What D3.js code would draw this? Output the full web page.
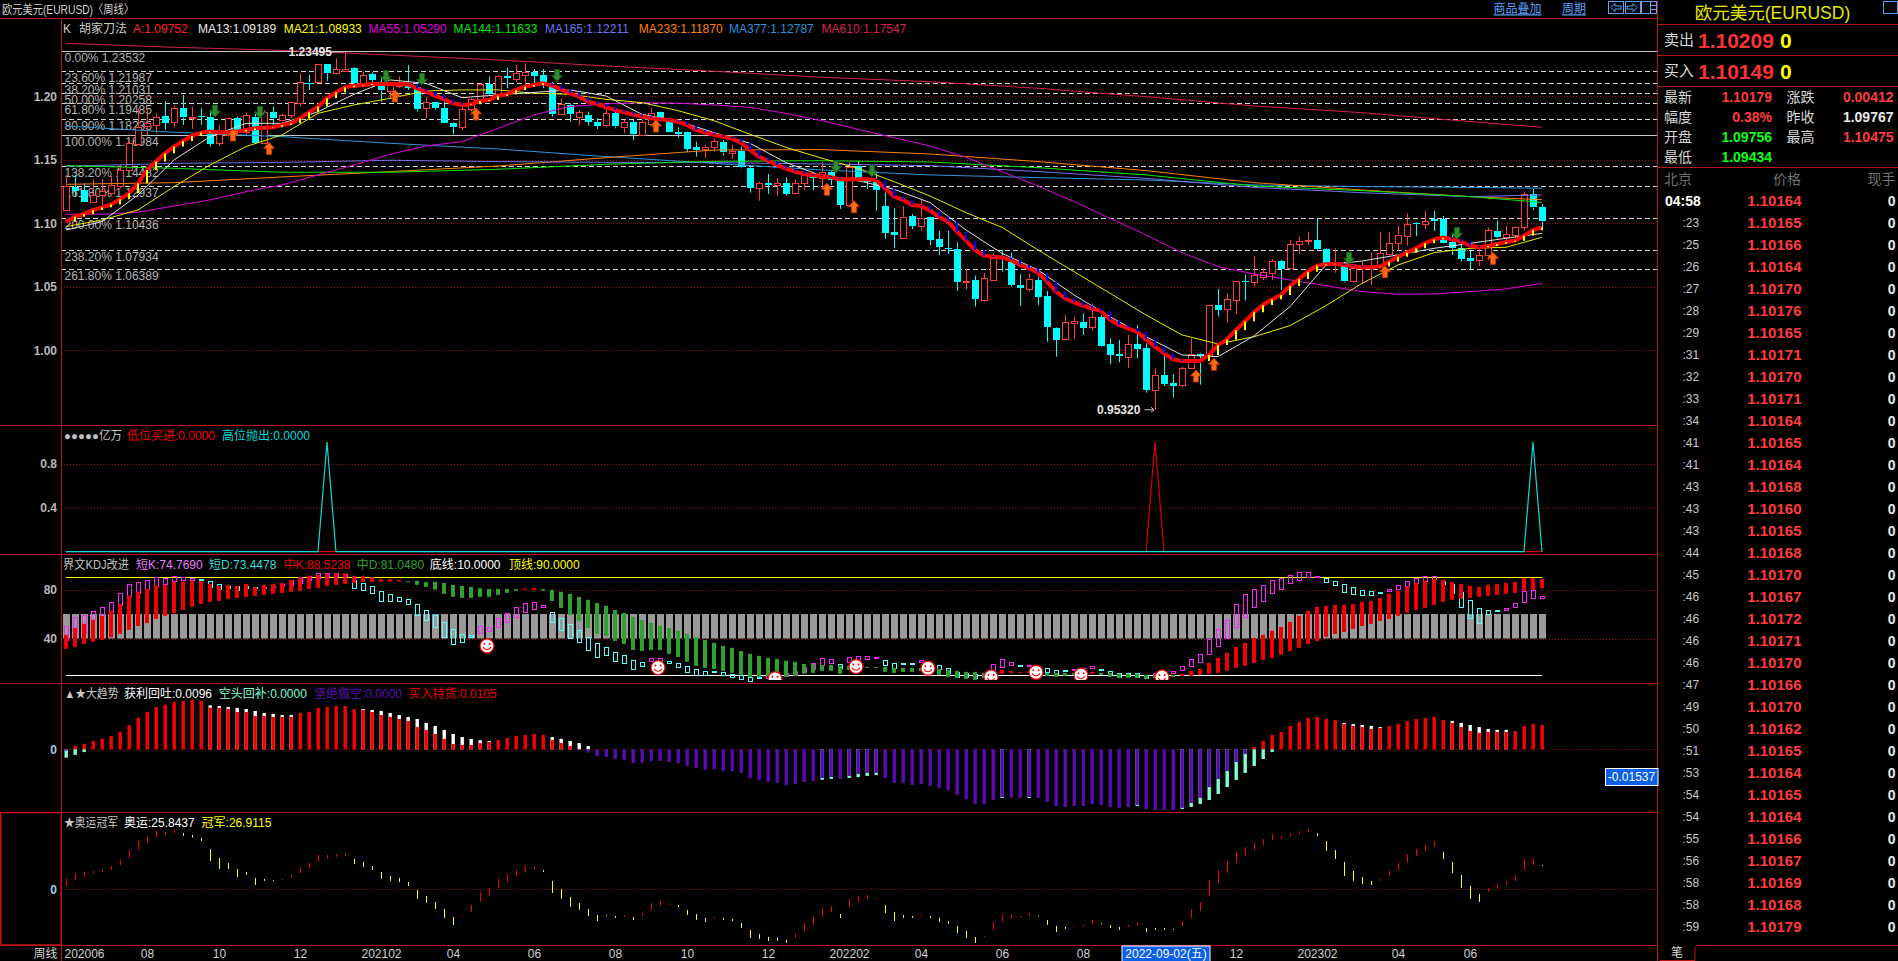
<!DOCTYPE html>
<html>
<head>
<meta charset="utf-8">
<title>EURUSD</title>
<script src="https://cdn.jsdelivr.net/npm/d3@7/dist/d3.min.js"></script>
<style>
  html, body { margin: 0; padding: 0; background: #000; overflow: hidden; }
  svg { display: block; }
  text { font-family: "Liberation Sans", "Noto Sans CJK SC", sans-serif; font-size: 12px; }
</style>
</head>
<body>
<div id="plot"></div>
<script>
// candles, weekly bars 202006 to 202308
const opens = [1.1105,1.1283,1.1262,1.1171,1.1223,1.1241,1.1297,1.1420,1.1630,1.1766,1.1780,1.1845,1.1793,1.1906,1.1832,1.1843,1.1840,1.1630,1.1696,1.1827,1.1717,1.1840,1.1633,1.1874,1.1814,1.1853,1.1950,1.2108,1.2110,1.2252,1.2181,1.2205,1.2221,1.2102,1.2173,1.2102,1.2042,1.2081,1.2084,1.2071,1.1906,1.1953,1.1906,1.1787,1.1753,1.1900,1.1976,1.2095,1.2016,1.2160,1.2137,1.2173,1.2189,1.2168,1.2089,1.1858,
  1.1932,1.1832,1.1853,1.1800,1.1774,1.1866,1.1753,1.1795,1.1690,1.1787,1.1874,1.1814,1.1722,1.1717,1.1598,1.1583,1.1598,1.1638,1.1556,1.1570,1.1438,1.1273,1.1315,1.1302,1.1315,1.1236,1.1320,1.1362,1.1362,1.1407,1.1336,1.1144,1.1454,1.1336,1.1323,1.1136,1.0932,1.0887,1.1055,1.0982,1.1047,1.0877,1.0808,1.0798,1.0540,1.0553,1.0391,1.0548,1.0724,1.0698,1.0514,1.0480,1.0553,1.0428,1.0176,1.0086,
  1.0212,1.0220,1.0178,1.0260,1.0050,0.9971,0.9950,1.0050,1.0018,0.9687,0.9806,0.9743,0.9722,0.9863,0.9974,0.9958,1.0357,1.0320,1.0391,1.0546,1.0533,1.0580,1.0611,1.0703,1.0646,1.0835,1.0858,1.0866,1.0798,1.0680,1.0685,1.0541,1.0646,1.0646,1.0653,1.0753,1.0842,1.0900,1.1000,1.0992,1.1031,1.1034,1.0853,1.0803,1.0727,1.0706,1.0748,1.0940,1.0890,1.0908,1.0968,1.1228,1.1126];
const closes = [1.1294,1.1249,1.1168,1.1223,1.1255,1.1302,1.1420,1.1630,1.1761,1.1787,1.1840,1.1793,1.1906,1.1832,1.1840,1.1837,1.1630,1.1701,1.1827,1.1722,1.1853,1.1638,1.1874,1.1827,1.1853,1.1958,1.2115,1.2100,1.2252,1.2181,1.2213,1.2218,1.2102,1.2168,1.2129,1.2045,1.2095,1.2097,1.2071,1.1900,1.1953,1.1906,1.1787,1.1756,1.1898,1.1976,1.2095,1.2016,1.2160,1.2142,1.2181,1.2194,1.2160,1.2110,1.1861,1.1937,
  1.1861,1.1874,1.1800,1.1769,1.1866,1.1761,1.1795,1.1701,1.1795,1.1871,1.1814,1.1722,1.1709,1.1585,1.1575,1.1598,1.1648,1.1556,1.1570,1.1441,1.1281,1.1315,1.1302,1.1315,1.1231,1.1315,1.1380,1.1360,1.1407,1.1341,1.1144,1.1446,1.1362,1.1325,1.1262,1.0924,1.0908,1.1052,1.0979,1.1045,1.0869,1.0814,1.0798,1.0540,1.0543,1.0404,1.0567,1.0724,1.0716,1.0514,1.0491,1.0559,1.0422,1.0186,1.0081,1.0220,
  1.0228,1.0176,1.0260,1.0034,0.9966,0.9958,1.0050,1.0010,0.9687,0.9803,0.9735,0.9722,0.9858,0.9971,0.9958,1.0357,1.0320,1.0401,1.0543,1.0535,1.0590,1.0617,1.0703,1.0643,1.0835,1.0858,1.0866,1.0795,1.0690,1.0690,1.0541,1.0646,1.0653,1.0664,1.0764,1.0842,1.0905,1.0992,1.0992,1.1016,1.1016,1.0848,1.0803,1.0719,1.0706,1.0748,1.0945,1.0890,1.0913,1.0968,1.1228,1.1123,1.1013];
const highs = [1.1381,1.1381,1.1315,1.1349,1.1349,1.1373,1.1460,1.1656,1.1906,1.1906,1.1866,1.1963,1.1932,1.2011,1.1919,1.1906,1.1892,1.1774,1.1832,1.1840,1.1874,1.1879,1.1892,1.1919,1.1866,1.1963,1.2181,1.2168,1.2252,1.2252,1.2299,1.2349,1.2228,1.2194,1.2189,1.2142,1.2102,1.2155,1.2247,1.2102,1.1997,1.1958,1.1958,1.1793,1.1932,1.1984,1.2102,1.2155,1.2168,1.2226,1.2247,1.2260,1.2215,1.2215,1.2115,1.1984,
  1.1945,1.1892,1.1879,1.1827,1.1892,1.1892,1.1814,1.1814,1.1814,1.1906,1.1879,1.1827,1.1756,1.1722,1.1643,1.1617,1.1669,1.1656,1.1617,1.1604,1.1459,1.1328,1.1388,1.1354,1.1362,1.1341,1.1399,1.1401,1.1486,1.1420,1.1354,1.1478,1.1491,1.1362,1.1394,1.1244,1.1118,1.1136,1.1073,1.1189,1.1052,1.0940,1.0940,1.0850,1.0640,1.0588,1.0609,1.0764,1.0790,1.0771,1.0598,1.0606,1.0580,1.0467,1.0181,1.0278,
  1.0265,1.0291,1.0370,1.0278,1.0094,1.0081,1.0121,1.0199,1.0055,0.9858,0.9963,0.9813,0.9871,1.0094,0.9981,1.0357,1.0483,1.0449,1.0543,1.0598,1.0743,1.0646,1.0719,1.0711,1.0869,1.0895,1.0934,1.1034,1.0803,1.0803,1.0698,1.0664,1.0698,1.0769,1.0934,1.0934,1.0979,1.1079,1.1005,1.1097,1.1097,1.1058,1.0908,1.0829,1.0782,1.0803,1.0966,1.1021,1.0979,1.0974,1.1244,1.1270,1.1152];
const lows = [1.1105,1.1210,1.1168,1.1168,1.1144,1.1218,1.1276,1.1407,1.1617,1.1696,1.1709,1.1735,1.1753,1.1774,1.1743,1.1774,1.1604,1.1611,1.1682,1.1709,1.1696,1.1638,1.1630,1.1748,1.1801,1.1827,1.1919,1.2050,1.2108,1.2121,1.2173,1.2194,1.2076,1.2071,1.2076,1.1958,1.1984,1.2063,1.2050,1.1879,1.1827,1.1892,1.1787,1.1701,1.1735,1.1879,1.1958,1.2011,1.1971,1.2063,1.2110,1.2089,1.2089,1.2063,1.1840,1.1853,
  1.1800,1.1774,1.1769,1.1743,1.1756,1.1748,1.1709,1.1656,1.1690,1.1774,1.1800,1.1717,1.1675,1.1559,1.1525,1.1512,1.1564,1.1533,1.1506,1.1433,1.1241,1.1178,1.1231,1.1215,1.1218,1.1231,1.1262,1.1262,1.1275,1.1302,1.1113,1.1139,1.1328,1.1270,1.1097,1.0877,1.0803,1.0887,1.0955,1.0942,1.0829,1.0750,1.0758,1.0467,1.0480,1.0344,1.0383,1.0548,1.0619,1.0501,1.0349,1.0462,1.0357,1.0068,0.9950,1.0076,
  1.0086,1.0121,1.0155,1.0029,0.9892,0.9905,0.9861,0.9937,0.9666,0.9530,0.9719,0.9627,0.9706,0.9858,0.9730,0.9955,1.0265,1.0218,1.0286,1.0391,1.0501,1.0554,1.0554,1.0475,1.0646,1.0758,1.0829,1.0785,1.0685,1.0611,1.0535,1.0535,1.0527,1.0514,1.0646,1.0748,1.0785,1.0824,1.0900,1.0955,1.0939,1.0842,1.0751,1.0701,1.0638,1.0664,1.0711,1.0882,1.0869,1.0882,1.0942,1.1105,1.0942];

// the heavy red line "A", one value a bar
const maA = [1.1013,1.1052,1.1073,1.1105,1.1126,1.1149,1.1189,1.1236,1.1315,1.1420,1.1486,1.1551,1.1604,1.1648,1.1688,1.1714,1.1722,1.1716,1.1716,1.1722,1.1735,1.1748,1.1753,1.1756,1.1774,1.1787,1.1827,1.1874,1.1919,1.1984,1.2031,1.2071,1.2084,1.2089,1.2097,1.2097,1.2097,1.2097,1.2095,1.2063,1.2037,1.2005,1.1976,1.1945,1.1932,1.1937,1.1963,1.1971,1.2005,1.2016,1.2050,1.2076,1.2089,1.2102,1.2084,1.2055,
  1.2024,1.1997,1.1958,1.1940,1.1913,1.1892,1.1874,1.1856,1.1840,1.1827,1.1819,1.1814,1.1800,1.1774,1.1735,1.1714,1.1696,1.1682,1.1667,1.1635,1.1577,1.1525,1.1491,1.1459,1.1430,1.1407,1.1388,1.1378,1.1373,1.1362,1.1346,1.1346,1.1346,1.1346,1.1341,1.1275,1.1210,1.1184,1.1144,1.1136,1.1100,1.1052,1.1013,1.0934,1.0863,1.0790,1.0745,1.0737,1.0730,1.0711,1.0672,1.0646,1.0611,1.0541,1.0462,1.0409,
  1.0378,1.0352,1.0328,1.0310,1.0239,1.0199,1.0173,1.0147,1.0086,1.0029,0.9976,0.9929,0.9916,0.9916,0.9916,0.9963,1.0042,1.0086,1.0160,1.0228,1.0299,1.0357,1.0401,1.0436,1.0506,1.0562,1.0619,1.0667,1.0677,1.0682,1.0672,1.0664,1.0653,1.0653,1.0659,1.0698,1.0737,1.0769,1.0803,1.0842,1.0874,1.0887,1.0874,1.0856,1.0824,1.0811,1.0821,1.0837,1.0853,1.0863,1.0903,1.0947,1.0968];

// short MAs, read every 4th bar
const shortIdx = d3.range(0, 165, 4);
const ma13 = [1.0947,1.1013,1.1223,1.1499,1.1682,1.1787,1.1787,1.1879,1.2016,1.2129,1.2102,1.1989,1.2011,1.2031,
  1.2050,1.2003,1.1858,1.1806,1.1714,1.1630,1.1478,1.1373,1.1336,1.1268,1.1163,1.0947,1.0764,1.0632,
  1.0436,1.0265,1.0107,0.9963,0.9950,1.0113,1.0344,1.0672,1.0703,1.0751,1.0803,1.0842,1.0882,1.0921];
const ma21 = [1.0974,1.1026,1.1105,1.1289,1.1459,1.1604,1.1696,1.1866,1.1932,1.1984,1.2042,1.2050,1.2050,1.2024,
  1.2016,1.1976,1.1950,1.1887,1.1808,1.1701,1.1598,1.1512,1.1433,1.1328,1.1215,1.1084,1.0968,1.0790,
  1.0619,1.0449,1.0278,1.0121,1.0050,1.0107,1.0194,1.0352,1.0527,1.0672,1.0769,1.0803,1.0811,1.0890];
const ma55 = [1.1071,1.1071,1.1087,1.1136,1.1184,1.1249,1.1302,1.1381,1.1459,1.1543,1.1609,1.1643,1.1748,1.1853,1.1919,1.1940,
  1.1950,1.1945,1.1932,1.1913,1.1866,1.1808,1.1740,1.1674,1.1609,1.1520,1.1407,1.1294,
  1.1171,1.1039,1.0908,1.0769,1.0659,1.0601,1.0554,1.0509,1.0462,1.0441,1.0444,1.0462,1.0483,1.0527];

// long MAs, read at wider steps
const longIdx = [0,12,24,36,48,60,72,84,96,108,120,132,144,156,164];
const ma144 = [1.1454,1.1433,1.1402,1.1402,1.1425,1.1465,1.1488,1.1493,1.1483,1.1438,1.1381,1.1294,1.1257,1.1210,1.1165];
const ma165 = [1.1449,1.1472,1.1480,1.1496,1.1486,1.1480,1.1478,1.1467,1.1454,1.1407,1.1354,1.1283,1.1241,1.1210,1.1223];
const ma233 = [1.1307,1.1320,1.1365,1.1407,1.1451,1.1517,1.1577,1.1580,1.1546,1.1486,1.1415,1.1320,1.1262,1.1210,1.1186];
const ma377 = [1.1766,1.1717,1.1682,1.1630,1.1585,1.1525,1.1472,1.1420,1.1381,1.1360,1.1341,1.1302,1.1289,1.1283,1.1276];
const ma610 = [1.2417,1.2386,1.2362,1.2325,1.2286,1.2239,1.2197,1.2150,1.2115,1.2063,1.1997,1.1924,1.1871,1.1801,1.1756];

// buy / sell arrows on the price pane
const sellArrowIdx = [16,21,35,39,54,85,89,142,154];
const sellArrowPrice = [1.1884,1.1874,1.2155,1.2134,1.2163,1.1446,1.1412,1.0724,1.0921];
const buyArrowIdx = [18,22,36,45,65,84,87,125,127,146,158];
const buyArrowPrice = [1.1696,1.1590,1.2003,1.1861,1.1766,1.1268,1.1131,0.9798,0.9890,1.0619,1.0724];

// fibonacci levels
const fibPct = ["0.00%","23.60%","38.20%","50.00%","61.80%","80.90%","100.00%","138.20%","161.80%","200.00%","238.20%","261.80%"];
const fibPrice = [1.23532,1.21987,1.21031,1.20258,1.19485,1.18235,1.16984,1.14482,1.12937,1.10436,1.07934,1.06389];

// 亿万 pane
const sellSignalIdx = [29,163];
const buySignalIdx = [121];

// 界文KDJ pane
const shortK = [50.3,57.7,59.3,62.3,65.9,69.9,77.3,84.6,86.3,87.9,90.3,89.5,91.2,90.1,89.5,87.9,82.4,80.3,81.1,79.7,81.1,81.6,82.4,83.0,84.6,87.9,90.1,91.4,93.3,93.3,93.3,92.8,81.1,79.2,77.0,71.0,70.5,70.5,68.0,59.3,55.0,49.8,41.6,35.4,37.0,41.4,50.3,49.5,56.9,60.7,65.9,68.8,69.7,67.2,53.3,47.1,40.8,37.6,31.0,24.8,26.1,21.2,19.6,15.0,
  17.1,23.9,23.9,19.6,16.3,12.2,9.8,9.8,12.2,9.8,9.0,6.5,5.7,8.2,10.4,10.4,11.7,13.3,17.1,19.9,23.9,23.1,16.1,24.8,26.1,26.1,24.8,18.0,15.8,19.6,19.6,22.3,19.9,14.7,11.7,9.0,8.4,7.6,9.0,19.0,23.1,20.7,18.0,18.5,17.1,12.2,10.4,13.1,15.0,15.8,17.4,14.0,10.4,8.4,9.5,8.4,7.6,11.7,13.1,13.3,17.4,23.1,
  27.2,39.5,47.6,55.2,68.3,76.5,80.3,83.5,87.6,89.5,91.7,94.1,94.1,90.9,85.7,83.3,77.6,75.9,75.1,75.4,76.7,80.3,83.5,86.8,89.2,90.9,90.9,84.1,77.0,66.1,56.3,52.2,59.6,62.1,64.8,68.8,78.7,79.5,74.8];
const shortD = [38.9,44.4,44.4,55.2,58.5,62.0,67.5,74.8,77.0,80.3,83.3,84.6,87.1,87.9,87.9,88.8,87.1,84.6,83.0,83.0,83.0,82.4,81.9,81.9,83.0,83.3,85.2,87.9,89.2,90.6,91.2,91.2,87.9,85.2,83.0,78.9,76.5,74.0,72.1,68.3,63.1,59.3,53.6,47.6,43.8,43.0,44.9,46.5,49.8,53.3,57.4,61.2,63.7,65.3,61.5,56.6,52.0,47.1,41.6,36.2,32.9,28.8,26.4,22.3,
  20.7,21.2,21.2,21.5,19.9,17.4,15.0,13.3,13.3,12.5,11.2,10.1,9.0,9.0,8.2,8.2,9.0,10.1,12.8,15.0,18.0,19.6,19.0,20.4,22.6,23.9,23.6,22.3,19.9,20.1,20.1,20.4,18.5,18.2,15.8,13.1,11.7,10.9,12.2,11.7,16.3,18.2,18.5,18.0,14.4,15.8,14.0,14.2,14.0,14.4,15.5,15.0,13.3,11.7,11.7,11.7,10.1,10.4,10.4,11.4,14.0,17.1,
  20.4,26.9,33.5,40.8,49.8,58.0,65.3,70.7,76.7,80.8,84.9,87.3,89.8,90.3,89.2,86.8,84.4,81.9,79.5,78.6,77.8,78.4,80.0,82.4,84.9,86.5,88.4,86.8,84.6,78.1,71.3,64.8,63.1,63.1,63.1,65.3,69.4,72.7,73.4];
const midK = [43.0,48.7,52.0,55.2,58.5,62.6,68.3,74.8,78.1,80.3,83.3,83.8,86.3,86.5,87.1,87.1,84.6,83.0,83.8,83.0,84.6,81.9,83.8,84.6,85.4,87.9,89.8,91.2,92.0,92.5,93.3,93.3,91.2,91.2,90.1,88.4,88.4,87.9,86.5,83.8,82.2,80.0,76.5,74.0,73.2,73.2,74.0,74.0,75.6,77.3,78.9,81.1,81.1,78.9,70.7,65.0,59.3,54.4,48.7,43.8,42.2,38.1,35.6,30.7,
  29.9,30.7,30.7,27.5,25.0,21.0,17.7,16.1,15.2,13.6,12.0,10.4,8.7,8.7,9.5,11.2,8.7,9.5,11.2,12.0,13.6,13.6,11.2,14.4,15.5,16.1,16.1,12.8,12.0,12.8,12.8,13.6,13.9,10.4,8.7,7.9,7.1,6.3,7.9,13.1,14.4,13.6,12.8,13.1,11.2,9.5,8.7,9.5,10.4,11.7,12.8,10.4,8.7,7.9,7.9,7.9,7.1,7.6,9.0,8.7,11.2,13.6,
  15.2,20.1,24.2,28.3,33.2,36.5,40.5,43.0,46.3,49.5,53.6,58.5,62.6,65.9,66.7,67.5,67.5,68.3,69.9,70.7,73.2,76.5,78.9,82.4,85.4,87.1,88.7,87.9,86.3,84.6,83.0,82.2,83.8,84.6,85.4,86.3,89.5,89.5,88.5];
const midD = [31.6,33.2,35.6,37.3,38.9,41.1,43.8,47.1,50.3,52.5,56.1,58.5,60.7,63.4,65.9,68.3,69.9,70.7,72.4,73.2,74.0,74.8,75.6,76.5,77.3,78.1,78.9,80.5,81.4,83.0,83.8,84.6,85.4,86.3,86.3,86.3,86.5,86.5,86.8,87.1,86.0,86.3,85.4,83.8,83.0,82.2,81.1,80.5,80.5,80.5,80.3,80.0,79.7,80.3,79.7,78.1,76.5,74.0,71.6,69.1,66.7,63.4,61.0,57.7,
  55.2,52.8,50.3,48.7,46.3,43.8,41.4,38.9,36.5,34.0,32.4,29.9,27.5,25.9,24.2,23.4,21.8,21.0,19.3,19.3,18.5,18.5,17.7,17.7,17.7,16.9,16.9,16.9,16.1,16.1,16.1,16.1,16.6,15.2,14.4,13.6,12.8,12.8,12.0,10.4,11.2,12.0,12.0,12.0,12.2,12.0,12.0,12.0,12.0,10.4,11.2,12.0,12.0,11.2,11.2,11.2,10.4,10.4,11.2,10.4,9.5,9.5,
  10.4,11.2,12.0,13.6,16.1,17.7,20.1,22.6,24.2,26.7,29.9,32.4,35.6,38.1,41.4,43.8,45.4,47.9,50.3,52.0,54.4,56.1,58.5,61.0,63.4,65.0,67.5,69.9,71.6,72.4,73.2,74.0,74.8,75.6,76.5,77.3,78.9,79.7,81.0];
const smileIdx = [47,66,79,88,96,103,108,113,122];
const smileVal = [34.0,16.3,7.1,17.1,15.8,8.7,12.5,10.1,8.7];

// 大趋势 pane
const buyHoldIdx = d3.range(1, 58).concat(d3.range(132, 165));
const buyHold = [.0014,.0023,.0036,.0045,.0058,.0076,.0105,.0137,.0161,.0183,.0192,.0204,.0209,.0213,.0210,.0180,.0179,.0174,.0161,.0161,.0144,.0144,.0140,.0140,.0140,.0157,.0161,.0179,.0183,.0187,.0187,.0174,.0170,.0161,.0148,.0140,.0131,.0122,.0096,.0084,.0066,.0045,.0023,.0019,.0019,.0027,.0032,.0040,.0049,.0058,.0062,.0066,.0062,.0040,.0027,.0014,.0001,
  .0010,.0036,.0062,.0075,.0101,.0118,.0135,.0140,.0131,.0127,.0109,.0101,.0096,.0088,.0092,.0101,.0109,.0122,.0131,.0135,.0140,.0127,.0114,.0096,.0079,.0071,.0075,.0075,.0075,.0079,.0101,.0109,.0105];
const takeProfitIdx = d3.range(16, 26).concat(d3.range(33, 48), d3.range(54, 59), d3.range(142, 147), d3.range(154, 161));
const takeProfit = [.0190,.0187,.0183,.0179,.0174,.0166,.0157,.0153,.0148,.0148,
  .0174,.0170,.0166,.0157,.0148,.0140,.0131,.0114,.0101,.0084,.0066,.0053,.0045,.0039,.0036,
  .0053,.0045,.0036,.0027,.0014,.0114,.0109,.0105,.0101,.0096,.0122,.0114,.0105,.0096,.0088,.0084,.0084];
const shortHoldIdx = [0].concat(d3.range(58, 132));
const shortHold = [-.0006,-.0014,-.0029,-.0033,-.0042,-.0046,-.0059,-.0059,-.0050,-.0050,-.0055,-.0059,-.0072,-.0081,-.0089,-.0085,-.0094,-.0094,-.0102,-.0124,-.0132,-.0141,-.0145,-.0154,-.0150,-.0141,-.0137,-.0124,-.0120,-.0128,-.0115,-.0107,-.0102,-.0102,-.0124,-.0145,-.0145,-.0154,-.0150,-.0158,-.0167,-.0176,-.0197,-.0215,-.0236,-.0236,-.0219,-.0206,-.0210,-.0210,-.0206,-.0210,-.0228,-.0245,-.0249,-.0245,-.0245,-.0236,-.0240,-.0249,-.0253,-.0249,-.0240,-.0258,-.0262,-.0262,-.0262,-.0253,-.0232,-.0210,-.0163,-.0128,-.0094,-.0055,-.0020];
const shortCoverIdx = [0,1,2,84,85,87,88,89,90,104,107,119,124,125,126,127,128,129,130,131,132,133,134];
const shortCover = [-.0036,-.0024,-.0012,-.0132,-.0128,-.0124,-.0120,-.0115,-.0111,-.0210,-.0210,-.0245,-.0258,-.0249,-.0236,-.0219,-.0193,-.0163,-.0132,-.0102,-.0072,-.0042,-.0012];

// 奥运冠军 pane
const olympic = [12.2,17.8,19.3,20.4,22.2,25.9,32.6,43.7,53.7,59.3,64.8,63.7,65.9,59.3,57.4,53.7,31.5,22.6,22.6,13.7,15.9,4.8,9.3,9.3,11.5,15.5,24.8,29.3,38.1,38.1,39.2,40.4,28.1,24.8,21.5,11.5,9.3,8.1,3.7,-10.7,-15.2,-21.8,-31.8,-39.6,-29.6,-17.4,-3.0,1.5,11.5,17.0,21.5,25.9,25.9,19.3,-4.1,-10.7,-19.6,-22.9,-29.6,-35.2,-29.6,-31.8,-28.9,-34.0,
  -26.3,-15.2,-13.0,-16.3,-19.6,-28.5,-34.0,-36.3,-30.7,-34.0,-35.2,-42.9,-54.0,-55.1,-57.4,-57.4,-59.6,-49.6,-37.4,-30.7,-20.7,-18.5,-31.8,-10.7,-7.4,-6.3,-9.6,-26.3,-35.2,-31.8,-31.8,-27.4,-31.8,-36.3,-38.5,-48.5,-54.0,-59.6,-51.8,-36.3,-27.4,-28.5,-29.6,-26.3,-30.7,-39.6,-47.4,-44.0,-40.7,-39.6,-34.0,-38.5,-42.9,-45.1,-39.6,-37.4,-47.4,-45.1,-45.1,-45.1,-35.2,-21.8,
  -14.1,10.4,21.5,31.5,41.4,47.0,51.5,55.9,61.4,59.2,62.6,64.8,67.0,59.2,42.6,33.7,14.8,9.3,5.9,4.8,11.5,20.4,29.3,39.2,44.8,49.2,53.7,33.7,18.1,1.5,-10.7,-14.1,1.1,5.9,9.3,15.9,33.7,33.7,25.8];
const champion = [3.7,10.4,13.7,17.4,19.3,21.5,27.0,34.8,43.7,51.5,57.4,60.4,62.6,62.6,60.4,57.0,44.8,34.8,29.3,22.6,19.3,12.6,11.5,10.4,10.4,12.6,18.1,23.7,30.4,33.7,35.9,37.0,33.7,30.4,25.9,19.3,14.8,12.6,8.1,-0.7,-7.4,-14.1,-21.8,-30.7,-30.7,-25.2,-14.1,-7.4,1.5,8.1,14.8,19.3,22.6,21.5,9.3,0.4,-8.5,-15.2,-21.8,-28.5,-28.5,-29.6,-30.7,-30.7,
  -29.6,-22.9,-18.5,-17.4,-17.4,-22.9,-27.4,-31.8,-32.9,-31.8,-32.9,-37.4,-45.1,-49.6,-52.9,-54.0,-56.2,-54.0,-46.3,-39.6,-30.7,-25.2,-27.4,-19.6,-14.1,-10.7,-10.7,-17.4,-25.2,-28.5,-29.6,-29.6,-29.6,-31.8,-35.2,-40.7,-46.3,-52.9,-52.9,-45.1,-36.3,-32.9,-31.8,-29.6,-29.6,-34.0,-40.7,-41.8,-41.8,-41.8,-38.5,-37.4,-39.6,-41.8,-41.8,-40.7,-42.9,-42.9,-42.9,-44.0,-40.7,-31.8,
  -24.1,-7.4,7.0,18.1,29.3,37.0,43.7,49.2,54.8,55.9,59.2,61.4,63.7,62.6,53.7,43.7,30.4,20.4,13.7,9.3,9.3,14.8,21.5,29.3,37.0,42.6,47.0,41.4,30.4,15.9,3.7,-5.2,-3.0,0.4,4.8,9.3,21.5,27.0,26.9];

// axis labels
const priceTicks = [1.00,1.05,1.10,1.15,1.20];
const signalTicks = [0.4,0.8];
const kdjTicks = [40,80];
const timeIdx = [2,9,17,26,35,43,52,61,69,78,87,95,104,113,130,139,148,156];
const timeLabels = ["202006","08","10","12","202102","04","06","08","10","12","202202","04","06","08","12","202302","04","06"];

// legends
const mainLegend = ["A:1.09752","MA13:1.09189","MA21:1.08933","MA55:1.05290","MA144:1.11633","MA165:1.12211","MA233:1.11870","MA377:1.12787","MA610:1.17547"];
const signalLegend = ["●●●●●亿万","低位买进:0.0000","高位抛出:0.0000"];
const kdjLegend = ["界文KDJ改进","短K:74.7690","短D:73.4478","中K:88.5238","中D:81.0480","底线:10.0000","顶线:90.0000"];
const trendLegend = ["▲★大趋势","获利回吐:0.0096","空头回补:0.0000","坚绝做空:0.0000","买入持货:0.0105"];
const oLegend = ["★奥运冠军","奥运:25.8437","冠军:26.9115"];

// right hand quote panel
const quoteLeft = ["最新","幅度","开盘","最低"];
const quoteLeftVal = ["1.10179","0.38%","1.09756","1.09434"];
const quoteRight = ["涨跌","昨收","最高"];
const quoteRightVal = ["0.00412","1.09767","1.10475"];
const tradeTimes = ["04:58",":23",":25",":26",":27",":28",":29",":31",":32",":33",":34",":41",":41",":43",":43",":43",":44",":45",":46",":46",":46",":46",":47",":49",":50",":51",":53",":54",":54",":55",":56",":58",":58",":59"];
const tradePrices = ["1.10164","1.10165","1.10166","1.10164","1.10170","1.10176","1.10165","1.10171","1.10170","1.10171","1.10164","1.10165","1.10164","1.10168","1.10160","1.10165","1.10168","1.10170","1.10167","1.10172","1.10171","1.10170","1.10166","1.10170","1.10162","1.10165","1.10164","1.10165","1.10164","1.10166","1.10167","1.10169","1.10168","1.10179"];

// ---- layout ----
const W = 1898, H = 961, axisX = 61, panelX = 1658;
const borderRed = "#b81414", gridRed = "#960c0c";
const upRed = "#ff3c3c", cyan = "#00ffff";

const svg = d3.select("#plot").append("svg").attr("width", W).attr("height", H)
  .style("background", "#000");

const bars = d3.range(165);
const x = d3.scaleLinear().domain([0, 164]).range([66, 1542]);
const yPrice = d3.scaleLinear().domain([1, 1.2]).range([350.3, 96.3]);
const ySignal = d3.scaleLinear().domain([0, 1]).range([551.7, 442]);
const yKdj = d3.scaleLinear().domain([10, 90]).range([675.3, 577.3]);
const yTrend = d3.scaleLinear().domain([0, 0.01]).range([749.3, 726.15]);
const yO = d3.scaleLinear().domain([0, 10]).range([889.3, 880.3]);

function px(v) { return Math.round(v) + 0.5; }

function hLine(g, y, color, dash, x1, x2) {
  g.append("line").attr("x1", x1 === undefined ? axisX : x1).attr("x2", x2 === undefined ? panelX - 1 : x2)
    .attr("y1", px(y)).attr("y2", px(y)).attr("stroke", color).attr("stroke-dasharray", dash || null);
}

function linePath(g, idx, vals, yScale, color, width) {
  const line = d3.line().x(d => x(d[0])).y(d => yScale(d[1]));
  g.append("path").datum(d3.zip(idx, vals)).attr("d", line).attr("fill", "none")
    .attr("stroke", color).attr("stroke-width", width || 1);
}

// firstWidth squeezes the pane name, its star glyphs run wide in this font
function legend(texts, xs, colors, y, firstWidth) {
  svg.append("g").selectAll("text").data(texts).join("text")
    .attr("x", (d, i) => xs[i]).attr("y", y).attr("dy", "0.36em")
    .attr("textLength", (d, i) => i === 0 && firstWidth ? firstWidth : null)
    .attr("lengthAdjust", "spacingAndGlyphs")
    .attr("fill", (d, i) => colors[i]).text(d => d);
}

function leftAxis(scale, ticks, fmt, color) {
  const g = svg.append("g").attr("transform", "translate(57,0)")
    .call(d3.axisLeft(scale).tickValues(ticks).tickFormat(fmt).tickSize(0).tickPadding(0));
  g.select(".domain").remove();
  g.selectAll("text").attr("fill", color || "#b8b8b8").attr("font-weight", "bold")
    .style("font-size", "12px");
}

// ---- price pane ----
const main = svg.append("g");
priceTicks.forEach(t => hLine(main, yPrice(t), gridRed, "1,2"));
fibPrice.forEach((p, i) => {
  const solid = fibPct[i] === "0.00%" || fibPct[i] === "100.00%";
  hLine(main, yPrice(p), solid ? "#c8c8c8" : "#d8d8d8", solid ? null : "5,3");
});
main.selectAll(".fib").data(fibPrice).join("text").attr("class", "fib")
  .attr("x", 64.5).attr("y", d => yPrice(d) + 6.7).attr("dy", "0.36em").attr("fill", "#b4b4b4")
  .text((d, i) => fibPct[i] + " " + d.toFixed(5));

// candles
const candle = main.selectAll(".candle").data(bars).join("g").attr("class", "candle");
candle.each(function(i) {
  const g = d3.select(this), cx = px(x(i));
  const up = closes[i] >= opens[i];
  const top = yPrice(Math.max(opens[i], closes[i])), bot = yPrice(Math.min(opens[i], closes[i]));
  const color = up ? upRed : cyan;
  g.append("line").attr("x1", cx).attr("x2", cx).attr("y1", yPrice(highs[i])).attr("y2", top).attr("stroke", color);
  g.append("line").attr("x1", cx).attr("x2", cx).attr("y1", bot).attr("y2", yPrice(lows[i])).attr("stroke", color);
  if (up) {
    g.append("rect").attr("x", cx - 3).attr("y", px(top)).attr("width", 6)
      .attr("height", Math.max(1, Math.round(bot - top))).attr("fill", "#000").attr("stroke", color);
  } else {
    g.append("rect").attr("x", cx - 3.5).attr("y", Math.round(top)).attr("width", 7)
      .attr("height", Math.max(1, Math.round(bot - top))).attr("fill", color);
  }
});

// moving averages
linePath(main, longIdx, ma610, yPrice, "#d8204c");
linePath(main, longIdx, ma377, yPrice, "#2a94dc");
linePath(main, longIdx, ma233, yPrice, "#ff8000");
linePath(main, longIdx, ma165, yPrice, "#7272f0");
linePath(main, longIdx, ma144, yPrice, "#00e800");
linePath(main, shortIdx, ma55, yPrice, "#e000e0");
linePath(main, shortIdx, ma21, yPrice, "#e8e800");
linePath(main, shortIdx, ma13, yPrice, "#e0e0e0");
linePath(main, bars, maA, yPrice, "#ff0000", 4);

// each bar of A carries a stick back to the value before it
main.selectAll(".aStick").data(bars.slice(1)).join("line").attr("class", "aStick")
  .attr("x1", d => x(d)).attr("x2", d => x(d))
  .attr("y1", d => yPrice(maA[d])).attr("y2", d => yPrice(maA[d - 1]))
  .attr("stroke", d => maA[d] >= maA[d - 1] ? "#ffff00" : "#0000ff").attr("stroke-width", 2);

// arrows
const upArrow = "M0,-6 L5.5,0 L2.5,0 L2.5,6 L-2.5,6 L-2.5,0 L-5.5,0 Z";
const downArrow = "M0,6 L5.5,0 L2.5,0 L2.5,-6 L-2.5,-6 L-2.5,0 L-5.5,0 Z";
main.selectAll(".buyArrow").data(buyArrowIdx).join("path").attr("class", "buyArrow").attr("d", upArrow)
  .attr("transform", (d, i) => `translate(${x(d) + 5},${yPrice(buyArrowPrice[i])})`)
  .attr("fill", "#ff6a10").attr("stroke", "#c03808");
main.selectAll(".sellArrow").data(sellArrowIdx).join("path").attr("class", "sellArrow").attr("d", downArrow)
  .attr("transform", (d, i) => `translate(${x(d) + 5},${yPrice(sellArrowPrice[i])})`)
  .attr("fill", "#2c8c2c").attr("stroke", "#145a14");

// high / low marks
main.append("text").attr("x", 288.6).attr("y", yPrice(1.23495)).attr("dy", "0.36em")
  .attr("fill", "#e8e8e8").attr("font-weight", "bold").text("1.23495");
main.append("text").attr("x", 1097).attr("y", yPrice(0.9532)).attr("dy", "0.36em")
  .attr("fill", "#e8e8e8").attr("font-weight", "bold").text("0.95320");
main.append("path").attr("d", `M332,${yPrice(1.23495)}H${x(31) - 1}`).attr("stroke", "#bbb").attr("fill", "none");
main.append("path").attr("d", `M1144.5,${yPrice(0.9532)}H${x(121) - 1}m-3,-2.5l3,2.5l-3,2.5`).attr("stroke", "#ccc").attr("fill", "none");

leftAxis(yPrice, priceTicks, d3.format(".2f"));

// ---- 亿万 pane ----
const sig = svg.append("g");
signalTicks.forEach(t => hLine(sig, ySignal(t), gridRed, "1,2"));
const buyLine = bars.map(i => buySignalIdx.includes(i) ? 1 : 0);
const sellLine = bars.map(i => sellSignalIdx.includes(i) ? 1 : 0);
linePath(sig, bars, buyLine, ySignal, "#d80000", 1.2);
linePath(sig, bars, sellLine, ySignal, "#10d8d8", 1.2);
leftAxis(ySignal, signalTicks, d3.format(".1f"));

// ---- KDJ pane ----
const kdj = svg.append("g");
kdjTicks.forEach(t => hLine(kdj, yKdj(t), gridRed, "1,2"));
kdj.append("line").attr("x1", x(0)).attr("x2", x(164)).attr("y1", px(yKdj(90))).attr("y2", px(yKdj(90))).attr("stroke", "#ffff00");
kdj.append("line").attr("x1", x(0)).attr("x2", x(164)).attr("y1", px(yKdj(10))).attr("y2", px(yKdj(10))).attr("stroke", "#ffffff");
kdj.selectAll(".grey").data(bars).join("rect").attr("class", "grey")
  .attr("x", d => Math.round(x(d)) - 3).attr("width", 7)
  .attr("y", yKdj(60)).attr("height", yKdj(40) - yKdj(60)).attr("fill", "#9a9a9a");
kdj.selectAll(".short").data(bars).join("rect").attr("class", "short")
  .attr("x", d => Math.round(x(d)) - 2 + 0.5).attr("width", 4)
  .attr("y", d => px(yKdj(Math.max(shortK[d], shortD[d]))))
  .attr("height", d => Math.max(1, Math.round(Math.abs(yKdj(shortK[d]) - yKdj(shortD[d])))))
  .attr("fill", "none").attr("stroke", d => shortK[d] >= shortD[d] ? "#ff20ff" : "#55ffff");
kdj.selectAll(".mid").data(bars).join("rect").attr("class", "mid")
  .attr("x", d => Math.round(x(d)) - 2).attr("width", 4)
  .attr("y", d => yKdj(Math.max(midK[d], midD[d])))
  .attr("height", d => Math.max(1, Math.abs(yKdj(midK[d]) - yKdj(midD[d]))))
  .attr("fill", d => midK[d] >= midD[d] ? "#f00000" : "#30a030");

// smiley marks, cut off at the foot of the pane
svg.append("clipPath").attr("id", "kdjClip").append("rect").attr("x", axisX).attr("y", 555).attr("width", 1600).attr("height", 125);
const smile = kdj.append("g").attr("clip-path", "url(#kdjClip)").selectAll("g").data(smileIdx).join("g")
  .attr("transform", (d, i) => `translate(${x(d) - 2},${yKdj(smileVal[i])})`);
smile.append("circle").attr("r", 7).attr("fill", "#fff").attr("stroke", "#f00000").attr("stroke-width", 1.3);
smile.append("circle").attr("cx", -2.6).attr("cy", -2).attr("r", 1).attr("fill", "#f00000");
smile.append("circle").attr("cx", 2.6).attr("cy", -2).attr("r", 1).attr("fill", "#f00000");
smile.append("path").attr("d", "M-4,1.2 Q0,6 4,1.2").attr("fill", "none").attr("stroke", "#f00000").attr("stroke-width", 1.1);
leftAxis(yKdj, kdjTicks, d3.format("d"));

// ---- 大趋势 pane ----
const trend = svg.append("g");
hLine(trend, yTrend(0), gridRed, "1,2");
function trendBars(idx, vals, color) {
  trend.append("g").selectAll("rect").data(d3.zip(idx, vals)).join("rect")
    .attr("x", d => Math.round(x(d[0])) - 1.5).attr("width", 3.4)
    .attr("y", d => Math.min(yTrend(0), yTrend(d[1])))
    .attr("height", d => Math.abs(yTrend(d[1]) - yTrend(0)))
    .attr("fill", color);
}
trendBars(takeProfitIdx, takeProfit, "#ffffff");
trendBars(buyHoldIdx, buyHold, "#f80000");
trendBars(shortCoverIdx, shortCover, "#7fffd4");
trendBars(shortHoldIdx, shortHold, "#5a0cb0");
leftAxis(yTrend, [0], d3.format("d"), "#a8cbe8");

// ---- 奥运冠军 pane ----
const oPane = svg.append("g");
hLine(oPane, yO(0), gridRed, "1,2");
oPane.selectAll(".stick").data(bars).join("line").attr("class", "stick")
  .attr("x1", d => px(x(d))).attr("x2", d => px(x(d)))
  .attr("y1", d => yO(olympic[d])).attr("y2", d => yO(champion[d]))
  .attr("stroke", d => olympic[d] >= champion[d] ? "#f00000" : "#ffff00");
leftAxis(yO, [0], d3.format("d"), "#a8cbe8");

// ---- time axis ----
const timeAxis = svg.append("g").attr("transform", "translate(0,945)")
  .call(d3.axisBottom(x).tickValues(timeIdx).tickFormat((d, i) => timeLabels[i]).tickSize(0).tickPadding(4));
timeAxis.select(".domain").remove();
timeAxis.selectAll("text").attr("fill", "#d0d0d0").style("font-size", "12px");
svg.append("text").attr("x", 33.5).attr("y", 953.3).attr("dy", "0.36em").attr("fill", "#d0d0d0").text("周线");

// ---- frame ----
const frame = svg.append("g");
[18, 425, 554, 683, 812, 945].forEach(y => hLine(frame, y, borderRed, null, 0, panelX));
frame.append("line").attr("x1", axisX + 0.5).attr("x2", axisX + 0.5).attr("y1", 18).attr("y2", H).attr("stroke", borderRed);
frame.append("line").attr("x1", panelX - 0.5).attr("x2", panelX - 0.5).attr("y1", 0).attr("y2", H).attr("stroke", borderRed);
frame.append("rect").attr("x", 0.75).attr("y", 812.5).attr("width", axisX - 0.5).attr("height", 132.5)
  .attr("fill", "none").attr("stroke", "#c01414").attr("stroke-width", 1.5);

// ---- titles and legends ----
svg.append("text").attr("x", 2).attr("y", 9.3).attr("dy", "0.36em").attr("fill", "#d0d0d0")
  .attr("textLength", 132).attr("lengthAdjust", "spacingAndGlyphs").text("欧元美元(EURUSD)〈周线〉");
legend(["K", "胡家刀法"], [63, 79], ["#c8c8c8", "#c8c8c8"], 29);
legend(mainLegend, [133,198,283.7,368.6,453.5,545,638.8,729,821.6],
  ["#ff2020","#e8e8e8","#ffff00","#e000e0","#00e800","#7272f0","#ff8000","#2a94dc","#d8204c"], 29);
legend(signalLegend, [64,127,222], ["#c0c0c0","#f00000","#00d8d8"], 435.7, 58);
legend(kdjLegend, [63,136,209,283.7,356.7,429.8,509], ["#c0c0c0","#e87cff","#30dcdc","#f00000","#30a030","#ffffff","#ffff00"], 564.3, 66);
legend(trendLegend, [64.5,124,218.8,314,408.6], ["#c8c8c8","#ffffff","#7fffd4","#5a10b8","#f00000"], 693.7, 54);
legend(oLegend, [64,124,201.6], ["#c8c8c8","#ffffff","#ffff00"], 822.7, 54);

// toolbar at the top
const toolBlue = "#5aa4ff";
svg.append("text").attr("x", 1493.5).attr("y", 9).attr("dy", "0.36em").attr("fill", toolBlue).attr("text-decoration", "underline").text("商品叠加");
svg.append("text").attr("x", 1562).attr("y", 9).attr("dy", "0.36em").attr("fill", toolBlue).attr("text-decoration", "underline").text("周期");
const tools = svg.append("g").attr("fill", "none").attr("stroke", toolBlue);
[1608, 1625, 1641].forEach(bx => tools.append("rect").attr("x", bx + 0.5).attr("y", 1.5).attr("width", 15).attr("height", 12));
tools.append("path").attr("d", "M1611,7.5l4,-4v2.5h6v3h-6v2.5z");
tools.append("path").attr("d", "M1637,7.5l-4,-4v2.5h-6v3h6v2.5z");
tools.append("path").attr("d", "M1650.5,1.5v12M1650.5,5.5h6M1650.5,9.5h6");
tools.append("rect").attr("x", 1883.5).attr("y", 1.5).attr("width", 14).attr("height", 12);

// crosshair labels
svg.append("rect").attr("x", 1605.5).attr("y", 768.5).attr("width", 52.5).attr("height", 17)
  .attr("fill", "#0a60e6").attr("stroke", "#fff");
svg.append("text").attr("x", 1631.5).attr("y", 777).attr("dy", "0.36em").attr("text-anchor", "middle").attr("fill", "#fff").text("-0.01537");
svg.append("rect").attr("x", 1122).attr("y", 946).attr("width", 88).attr("height", 16)
  .attr("fill", "#0a60e6").attr("stroke", "#fff");
svg.append("text").attr("x", 1166).attr("y", 954).attr("dy", "0.36em").attr("text-anchor", "middle").attr("fill", "#fff").text("2022-09-02(五)");

// ---- quote panel ----
const panel = svg.append("g");
panel.append("text").attr("x", 1694.7).attr("y", 12.3).attr("dy", "0.36em").attr("fill", "#e8e800")
  .style("font-size", "17.5px").text("欧元美元(EURUSD)");
[24, 55, 86, 167].forEach(y => hLine(panel, y, borderRed, null, panelX, W));
function quoteRow(label, value, size, y) {
  panel.append("text").attr("x", 1664).attr("y", y).attr("dy", "0.36em").attr("fill", "#d8d8d8").style("font-size", "15px").text(label);
  panel.append("text").attr("x", 1698).attr("y", y).attr("dy", "0.36em").attr("fill", "#ff3232").attr("font-weight", "bold").style("font-size", "21px").text(value);
  panel.append("text").attr("x", 1780).attr("y", y).attr("dy", "0.36em").attr("fill", "#ffff00").attr("font-weight", "bold").style("font-size", "21px").text(size);
}
quoteRow("卖出", "1.10209", "0", 40);
quoteRow("买入", "1.10149", "0", 71);

const rowY = d3.scaleLinear().domain([0, 1]).range([97, 117]);
const quoteLeftColor = ["#ff3c3c", "#ff3c3c", "#10ff10", "#10ff10"];
const quoteRightColor = ["#ff3c3c", "#e8e8e8", "#ff3c3c"];
panel.selectAll(".ql").data(quoteLeft).join("text").attr("class", "ql").attr("x", 1664).attr("y", (d, i) => rowY(i))
  .attr("dy", "0.36em").attr("fill", "#d8d8d8").style("font-size", "14px").text(d => d);
panel.selectAll(".qlv").data(quoteLeftVal).join("text").attr("class", "qlv").attr("x", 1772).attr("y", (d, i) => rowY(i))
  .attr("dy", "0.36em").attr("text-anchor", "end").attr("fill", (d, i) => quoteLeftColor[i]).attr("font-weight", "bold").style("font-size", "14px").text(d => d);
panel.selectAll(".qr").data(quoteRight).join("text").attr("class", "qr").attr("x", 1786.5).attr("y", (d, i) => rowY(i))
  .attr("dy", "0.36em").attr("fill", "#d8d8d8").style("font-size", "14px").text(d => d);
panel.selectAll(".qrv").data(quoteRightVal).join("text").attr("class", "qrv").attr("x", 1893.5).attr("y", (d, i) => rowY(i))
  .attr("dy", "0.36em").attr("text-anchor", "end").attr("fill", (d, i) => quoteRightColor[i]).attr("font-weight", "bold").style("font-size", "14px").text(d => d);

// trade list
panel.append("text").attr("x", 1664).attr("y", 179.3).attr("dy", "0.36em").attr("fill", "#707070").style("font-size", "14px").text("北京");
panel.append("text").attr("x", 1801).attr("y", 179.3).attr("dy", "0.36em").attr("text-anchor", "end").attr("fill", "#707070").style("font-size", "14px").text("价格");
panel.append("text").attr("x", 1895.5).attr("y", 179.3).attr("dy", "0.36em").attr("text-anchor", "end").attr("fill", "#707070").style("font-size", "14px").text("现手");
const tradeY = d3.scaleLinear().domain([0, 1]).range([201, 223]);
panel.selectAll(".tt").data(tradeTimes).join("text").attr("class", "tt")
  .attr("x", (d, i) => i === 0 ? 1665 : 1682.5).attr("y", (d, i) => tradeY(i)).attr("dy", "0.36em")
  .attr("fill", (d, i) => i === 0 ? "#ffffff" : "#c8c8c8").attr("font-weight", (d, i) => i === 0 ? "bold" : null)
  .style("font-size", (d, i) => i === 0 ? "14px" : "12px").text(d => d);
panel.selectAll(".tp").data(tradePrices).join("text").attr("class", "tp")
  .attr("x", 1801.5).attr("y", (d, i) => tradeY(i)).attr("dy", "0.36em").attr("text-anchor", "end")
  .attr("fill", "#ff3c3c").attr("font-weight", "bold").style("font-size", "15px").text(d => d);
panel.selectAll(".tv").data(tradePrices).join("text").attr("class", "tv")
  .attr("x", 1895.5).attr("y", (d, i) => tradeY(i)).attr("dy", "0.36em").attr("text-anchor", "end")
  .attr("fill", "#e8e8e8").attr("font-weight", "bold").style("font-size", "14px").text("0");

// tab at the bottom of the panel
panel.append("path").attr("d", "M1898,945.5H1697l-2,2v13H1660l-2,-2").attr("fill", "none").attr("stroke", borderRed);
panel.append("text").attr("x", 1671).attr("y", 953).attr("dy", "0.36em").attr("fill", "#d8d8d8").text("笔");
</script>
</body>
</html>
